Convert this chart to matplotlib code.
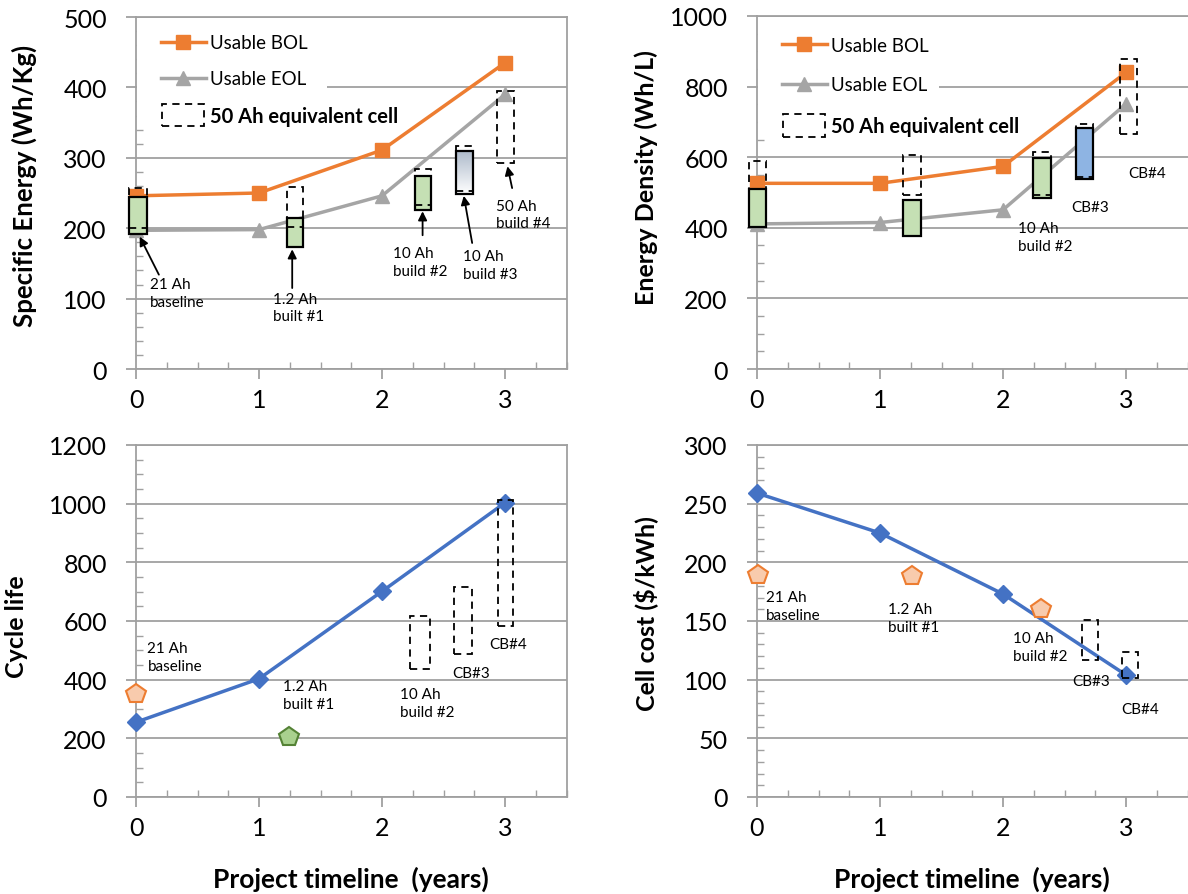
import matplotlib
matplotlib.use('Agg')
import matplotlib.pyplot as plt
from matplotlib.patches import Rectangle
from matplotlib.lines import Line2D
from matplotlib.ticker import MultipleLocator
from matplotlib.legend_handler import HandlerPatch
import numpy as np

plt.rcParams['font.family'] = ['Lato', 'DejaVu Sans']

# ---------------- data ----------------
years = [0, 1, 2, 3]

se_bol = [246, 250, 311, 435]
se_eol = [197, 198, 246, 390]
ed_bol = [526, 526, 574, 840]
ed_eol = [411, 415, 451, 751]
cycle_life = [255, 403, 701, 1003]
cell_cost = [259, 225, 173, 104]

# specific energy – measured cells (x0, x1, low, high)
se_cell_x = [(-0.06, 0.087), (1.225, 1.355), (2.265, 2.40), (2.60, 2.74)]
se_cell_rng = [(192, 244), (174, 214), (226, 274), (248, 310)]
se_cell_col = ['#C5E0B4', '#C5E0B4', '#C5E0B4', 'gradient']
se_eq_x = [(-0.06, 0.087), (1.225, 1.355), (2.265, 2.40), (2.60, 2.74), (2.935, 3.07)]
se_eq_rng = [(200, 257), (202, 258), (233, 284), (253, 317), (293, 395)]
se_notes = ['21 Ah\nbaseline', '1.2 Ah\nbuilt #1', '10 Ah\nbuild #2', '10 Ah\nbuild #3', '50 Ah\nbuild #4']
se_note_xy = [(0.11, 131), (1.115, 110), (2.09, 175), (2.66, 170), (2.93, 242)]
se_arrow_tail = [(0.186, 134), (1.27, 115), (2.33, 190), (2.733, 179), (3.058, 257)]
se_arrow_head = [(0.03, 188), (1.27, 170), (2.33, 224), (2.665, 246), (3.02, 288)]

# energy density – measured cells
ed_cell_x = [(-0.067, 0.07), (1.19, 1.33), (2.247, 2.387), (2.59, 2.73)]
ed_cell_rng = [(402, 509), (377, 479), (484, 599), (539, 682)]
ed_cell_col = ['#C5E0B4', '#C5E0B4', '#C5E0B4', '#8EB4E3']
ed_eq_x = [(-0.067, 0.07), (1.19, 1.33), (2.247, 2.387), (2.59, 2.73), (2.95, 3.09)]
ed_eq_rng = [(402, 588), (493, 605), (493, 616), (545, 694), (665, 877)]
ed_notes = ['10 Ah\nbuild #2', 'CB#3', 'CB#4']
ed_note_xy = [(2.12, 418), (2.557, 479), (3.015, 574)]

# cycle life
cl_pent_x = [0.0, 1.24]
cl_pent_y = [350, 204]
cl_pent_face = ['#F8CBAD', '#A9D18E']
cl_pent_edge = ['#ED7D31', '#548235']
cl_eq_x = [(2.23, 2.39), (2.585, 2.73), (2.94, 3.065)]
cl_eq_rng = [(437, 616), (488, 716), (582, 1013)]
cl_notes = ['21 Ah\nbaseline', '1.2 Ah\nbuilt #1', '10 Ah\nbuild #2', 'CB#3', 'CB#4']
cl_note_xy = [(0.093, 531), (1.193, 403), (2.144, 374), (2.572, 446), (2.876, 544)]

# cell cost
cc_pent_x = [0.01, 1.26, 2.31]
cc_pent_y = [189, 188, 160]
cc_eq_x = [(2.643, 2.774), (2.966, 3.10)]
cc_eq_rng = [(117, 150.6), (101, 123.6)]
cc_notes = ['21 Ah\nbaseline', '1.2 Ah\nbuilt #1', '10 Ah\nbuild #2', 'CB#3', 'CB#4']
cc_note_xy = [(0.07, 176.6), (1.068, 166.4), (2.084, 141.2), (2.563, 104.9), (2.96, 80.8)]

legend_labels = ['Usable BOL', 'Usable EOL', '50 Ah equivalent cell']

ORANGE = '#ED7D31'
GRAY = '#A5A5A5'
BLUE = '#4472C4'
GRID = '#A0A0A0'

W, H = 1188, 895
fig = plt.figure(figsize=(11.88, 8.95), dpi=100)


def px_axes(left, top, right, bottom):
    return fig.add_axes([left / W, 1 - bottom / H, (right - left) / W, (bottom - top) / H])


def style(ax, ymax, ymaj, ymin, right_spine=True):
    ax.set_xlim(0, 3.5)
    ax.set_ylim(0, ymax)
    ax.xaxis.set_major_locator(MultipleLocator(1))
    ax.xaxis.set_minor_locator(MultipleLocator(0.25))
    ax.yaxis.set_major_locator(MultipleLocator(ymaj))
    ax.yaxis.set_minor_locator(MultipleLocator(ymin))
    ax.grid(axis='y', which='major', color=GRID, lw=1.3, zorder=0)
    ax.set_axisbelow(True)
    for s in ['left', 'bottom', 'right', 'top']:
        ax.spines[s].set_color(GRID)
        ax.spines[s].set_linewidth(1.3)
    ax.spines['right'].set_visible(right_spine)
    ax.tick_params(axis='y', which='major', direction='out', length=7.5, width=1.3,
                   color=GRID, labelsize=18, pad=13.5, labelcolor='black')
    ax.tick_params(axis='y', which='minor', direction='in', length=5, width=1.0, color=GRID)
    ax.tick_params(axis='x', which='major', direction='out', length=7, width=1.3,
                   color=GRID, labelsize=18, pad=7, labelcolor='black')
    ax.tick_params(axis='x', which='minor', direction='in', length=5, width=1.0, color=GRID)


def dashed_boxes(ax, xs, rngs):
    for (x0, x1), (lo, hi) in zip(xs, rngs):
        ax.add_patch(Rectangle((x0, lo), x1 - x0, hi - lo, fill=False, ec='black',
                               lw=1.3, ls=(0, (4, 3)), zorder=5, clip_on=False))


def solid_boxes(ax, xs, rngs, cols):
    for (x0, x1), (lo, hi), c in zip(xs, rngs, cols):
        if c == 'gradient':
            grad = np.linspace(0, 1, 100)
            top = np.array([0xAC, 0xB9, 0xCA]) / 255.0
            img = np.zeros((100, 1, 3))
            for i in range(3):
                img[:, 0, i] = top[i] + (1 - top[i]) * grad
            ax.imshow(img, extent=[x0, x1, lo, hi], origin='upper', aspect='auto',
                      zorder=4, interpolation='bilinear')
            ax.add_patch(Rectangle((x0, lo), x1 - x0, hi - lo, fill=False, ec='black',
                                   lw=1.6, zorder=4.5, clip_on=False))
        else:
            ax.add_patch(Rectangle((x0, lo), x1 - x0, hi - lo, fc=c, ec='black',
                                   lw=1.6, zorder=4, clip_on=False))


def notes(ax, texts, xys, size=11):
    for t, (x, y) in zip(texts, xys):
        ax.text(x, y, t, ha='left', va='top', fontsize=size, linespacing=1.35,
                color='black', zorder=6)


class TallRect(HandlerPatch):
    def create_artists(self, legend, orig_handle, xdescent, ydescent, width, height,
                       fontsize, trans):
        r = Rectangle((-xdescent + 1, -ydescent - height * 0.35), width - 2, height * 1.7,
                      fill=False, ec='black', lw=1.3, ls=(0, (4, 3)), transform=trans)
        return [r]


def legend_block(ax, white_right_frac, top_frac, bottom_frac, spacing, anchor_y):
    ax.add_patch(Rectangle((0.003, bottom_frac), white_right_frac, top_frac - bottom_frac,
                           transform=ax.transAxes, fc='white', ec='none', zorder=1))
    rect = Rectangle((0, 0), 1, 1, fill=False, ec='black', lw=1.3, ls=(0, (4, 3)))
    handles = [Line2D([], [], color=ORANGE, lw=2.5, marker='s', ms=10),
               Line2D([], [], color=GRAY, lw=2.5, marker='^', ms=10),
               rect]
    leg = ax.legend(handles, legend_labels,
                    loc='upper left', bbox_to_anchor=(0.04, anchor_y), frameon=False,
                    fontsize=13.5, handlelength=2.4, handletextpad=0.25,
                    labelspacing=spacing, borderaxespad=0.0,
                    handler_map={Rectangle: TallRect()})
    t = leg.get_texts()[2]
    t.set_fontweight('bold')
    t.set_fontsize(14.5)
    leg.set_zorder(7)
    return leg


# ---------------- top-left: specific energy ----------------
ax1 = px_axes(136, 18, 566.5, 370)
style(ax1, 500, 100, 20)
ax1.plot(years, se_bol, color=ORANGE, lw=2.5, marker='s', ms=10, zorder=3, clip_on=False)
ax1.plot(years, se_eol, color=GRAY, lw=2.5, marker='^', ms=10, zorder=3, clip_on=False)
solid_boxes(ax1, se_cell_x, se_cell_rng, se_cell_col)
dashed_boxes(ax1, se_eq_x, se_eq_rng)
notes(ax1, se_notes, se_note_xy)
for tail, head in zip(se_arrow_tail, se_arrow_head):
    ax1.annotate('', xy=head, xytext=tail,
                 arrowprops=dict(arrowstyle='-|>', color='black', lw=1.3,
                                 mutation_scale=13, shrinkA=0, shrinkB=0), zorder=6)
ax1.set_xlim(0, 3.5)
ax1.set_ylim(0, 500)
legend_block(ax1, 0.44, 0.97, 0.70, 1.0, 0.972)

# ---------------- top-right: energy density ----------------
ax2 = px_axes(757, 17, 1187.5, 370)
style(ax2, 1000, 200, 50, right_spine=False)
ax2.plot(years, ed_bol, color=ORANGE, lw=2.5, marker='s', ms=10, zorder=3, clip_on=False)
ax2.plot(years, ed_eol, color=GRAY, lw=2.5, marker='^', ms=10, zorder=3, clip_on=False)
solid_boxes(ax2, ed_cell_x, ed_cell_rng, ed_cell_col)
dashed_boxes(ax2, ed_eq_x, ed_eq_rng)
notes(ax2, ed_notes, ed_note_xy)
ax2.set_xlim(0, 3.5)
ax2.set_ylim(0, 1000)
legend_block(ax2, 0.42, 0.97, 0.68, 1.2, 0.962)

# ---------------- bottom-left: cycle life ----------------
ax3 = px_axes(136, 446, 566.5, 798)
style(ax3, 1200, 200, 50)
ax3.plot(years, cycle_life, color=BLUE, lw=2.5, marker='D', ms=9, zorder=3, clip_on=False)
for x, y, fc, ec in zip(cl_pent_x, cl_pent_y, cl_pent_face, cl_pent_edge):
    ax3.plot([x], [y], marker='p', ms=15, mfc=fc, mec=ec, mew=1.5, ls='none', zorder=4,
             clip_on=False)
dashed_boxes(ax3, cl_eq_x, cl_eq_rng)
notes(ax3, cl_notes, cl_note_xy)

# ---------------- bottom-right: cell cost ----------------
ax4 = px_axes(757, 446, 1187.5, 798)
style(ax4, 300, 50, 10, right_spine=False)
ax4.plot(years, cell_cost, color=BLUE, lw=2.5, marker='D', ms=9, zorder=3, clip_on=False)
ax4.plot(cc_pent_x, cc_pent_y, marker='p', ms=15, mfc='#F8CBAD', mec=ORANGE, mew=1.5,
         ls='none', zorder=4, clip_on=False)
dashed_boxes(ax4, cc_eq_x, cc_eq_rng)
notes(ax4, cc_notes, cc_note_xy)

# ---------------- axis titles ----------------
def ftext(x, y, s, rot=0, size=17.5):
    fig.text(x / W, 1 - y / H, s, rotation=rot, ha='center', va='center',
             fontsize=size, fontweight='bold')

ftext(24, 186, 'Specific Energy (Wh/Kg)', 90, 18.5)
ftext(646, 178, 'Energy Density (Wh/L)', 90, 18)
ftext(17, 627, 'Cycle life', 90, 18)
ftext(646, 614, 'Cell cost ($/kWh)', 90, 18)
ftext(351, 879, 'Project timeline  (years)', 0, 19)
ftext(972, 879, 'Project timeline  (years)', 0, 19)

fig.savefig('out.png', dpi=100)
